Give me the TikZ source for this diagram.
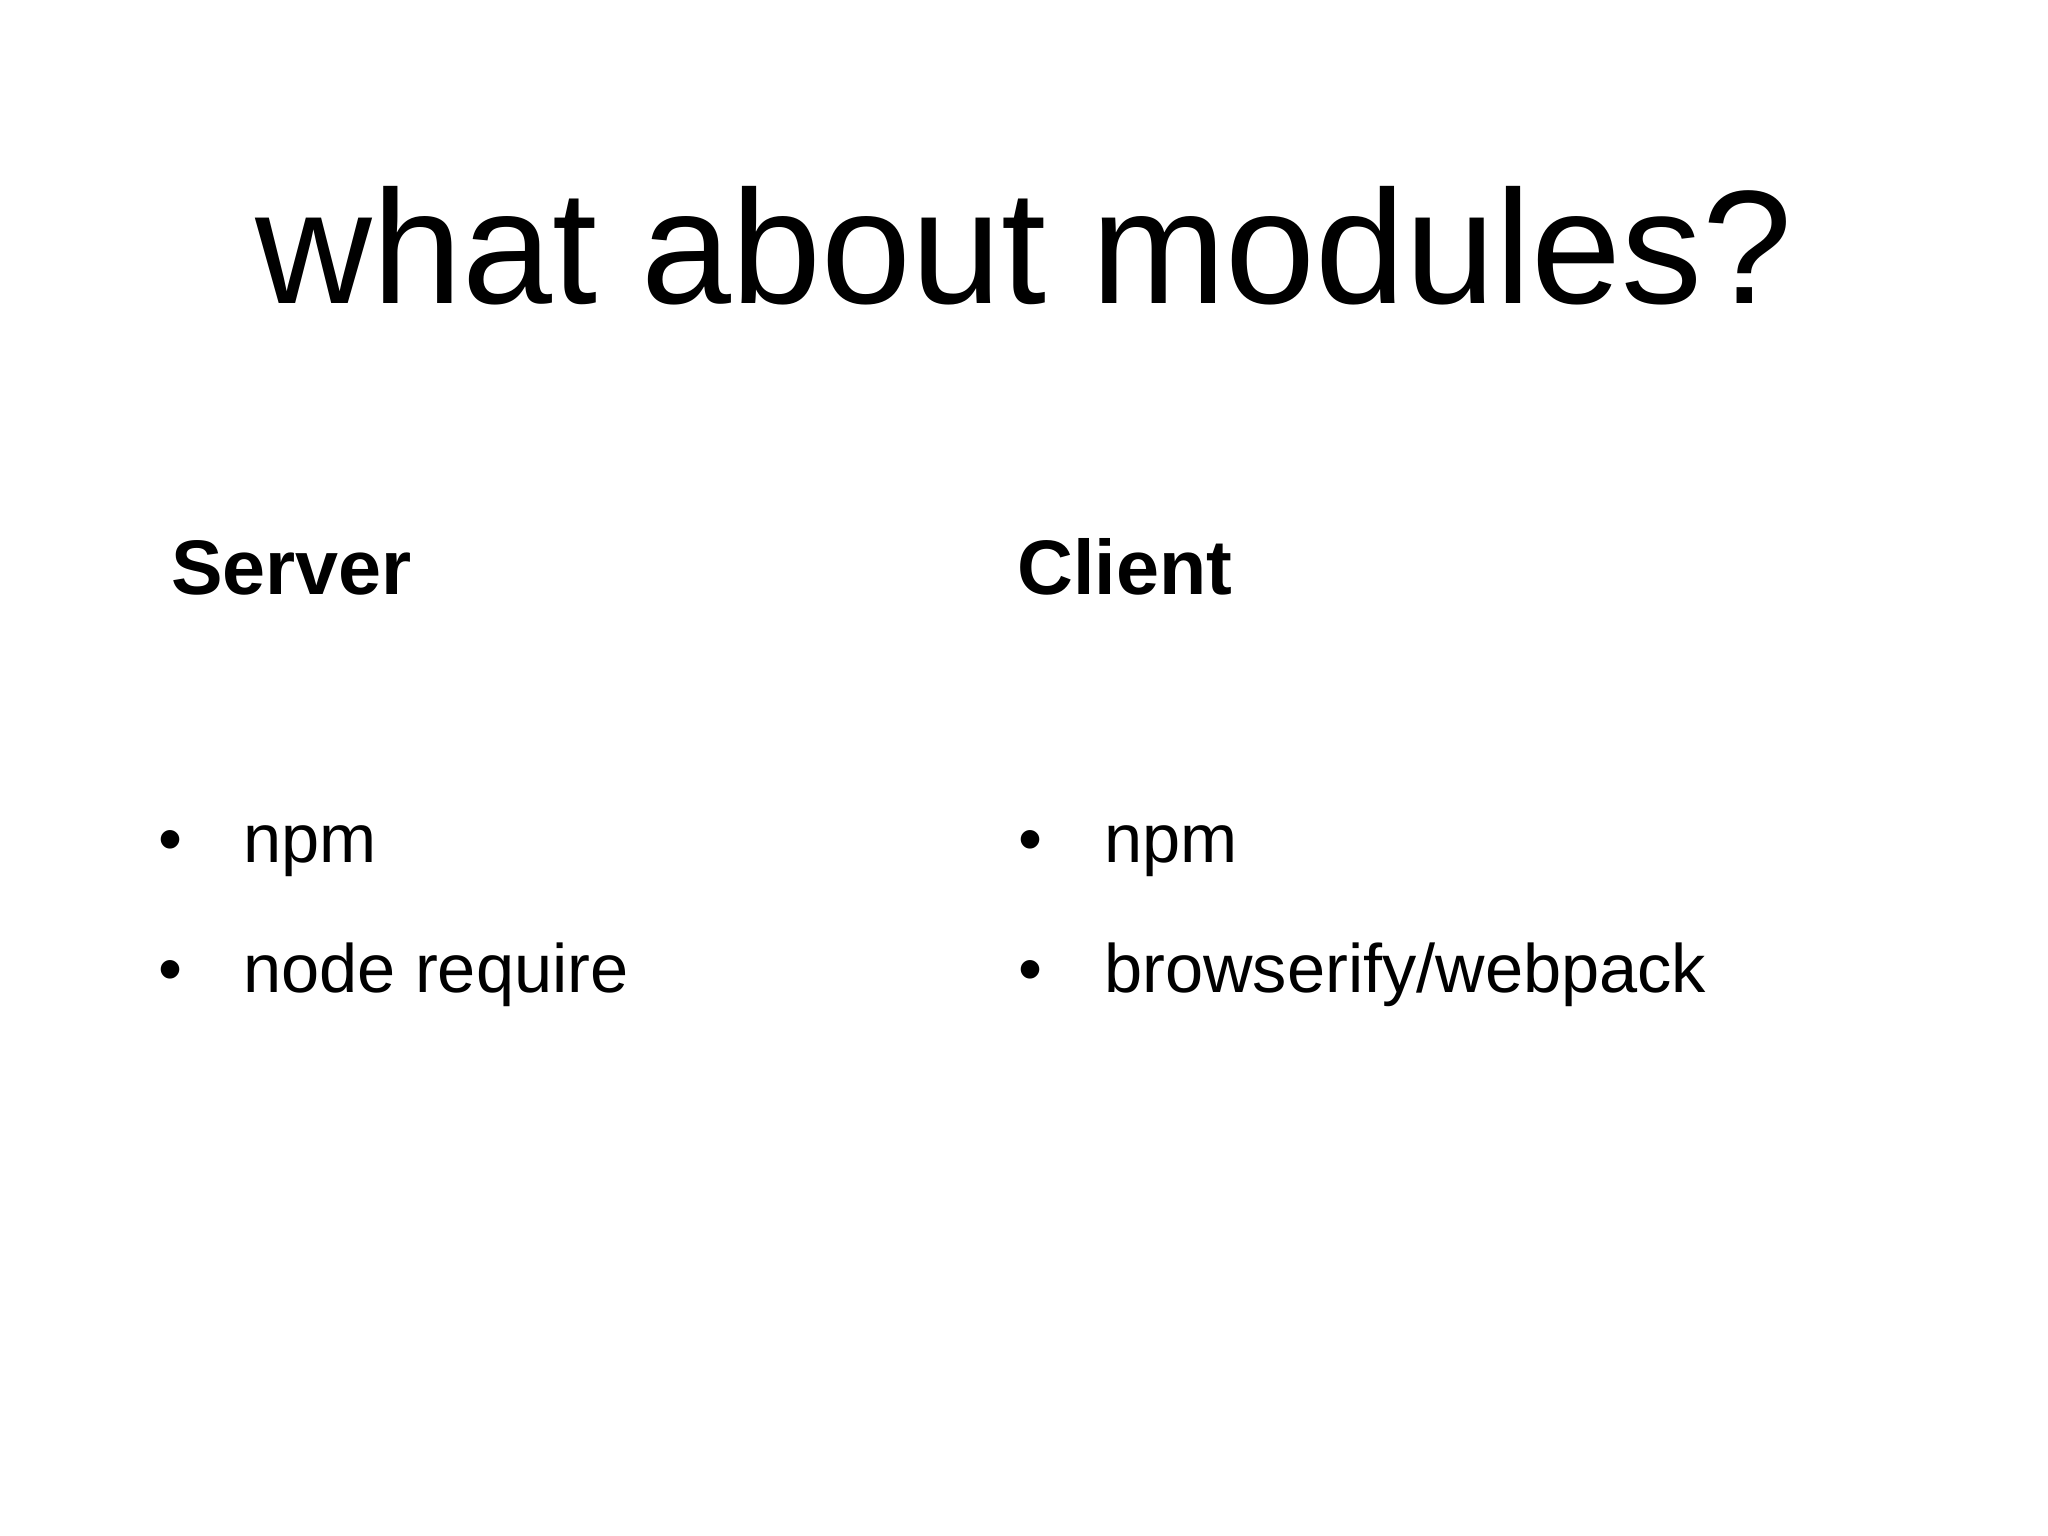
\documentclass[tikz,border=0pt]{standalone}
\usepackage{fontspec}
\setmainfont{Liberation Sans}
\begin{document}
\begin{tikzpicture}[x=0.013061cm,y=-0.013061cm,
  txt/.style={anchor=base west,inner sep=0pt,outer sep=0pt},
  head/.style={txt,font=\fontsize{22}{26}\selectfont\bfseries},
  item/.style={txt,font=\fontsize{19.5}{24}\selectfont}]
\useasboundingbox[fill=white] (0,0) rectangle (1568,1176);
\node[txt,anchor=base,font=\fontsize{46}{54}\selectfont] (title) at (784,232) {what about modules?};
\node[head] (server) at (131,455) {Server};
\node[head] (client) at (779,455) {Client};
\node[item] (s1) at (121,660) {•\hspace{0.9em}npm};
\node[item] (s2) at (121,760) {•\hspace{0.9em}node require};
\node[item] (c1) at (780,660) {•\hspace{0.9em}npm};
\node[item] (c2) at (780,760) {•\hspace{0.9em}browserify/webpack};
\end{tikzpicture}
\end{document}
